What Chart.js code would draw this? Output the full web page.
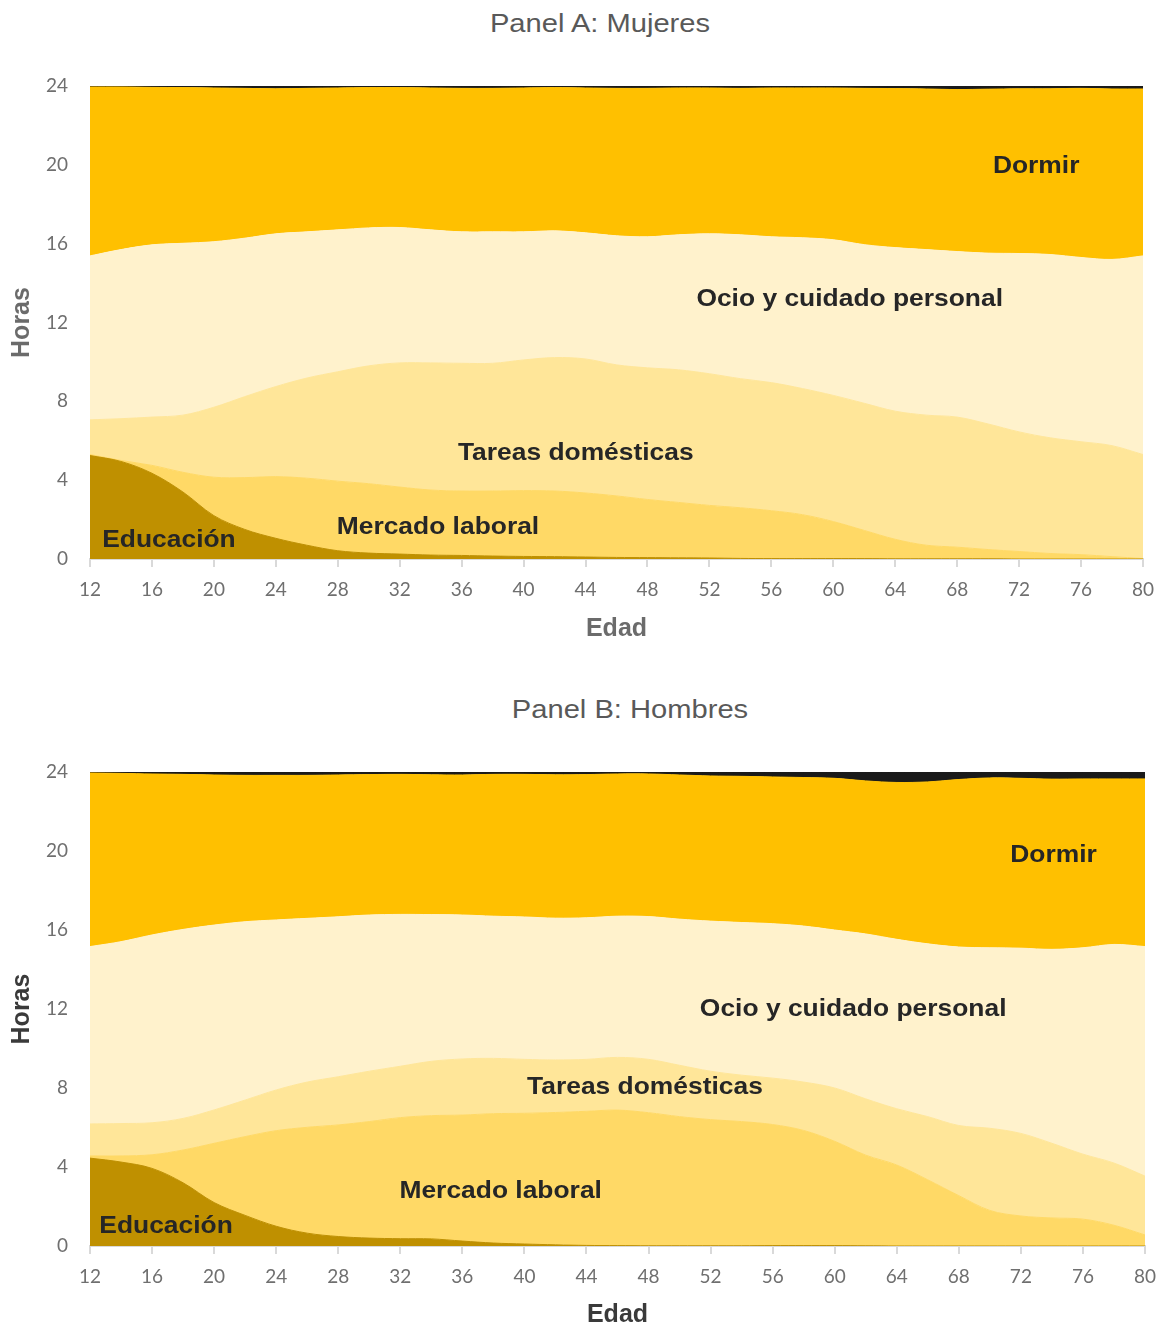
<!DOCTYPE html>
<html>
<head>
<meta charset="utf-8">
<title>Uso del tiempo por edad</title>
<script src="https://cdn.jsdelivr.net/npm/chart.js@4.4.1/dist/chart.umd.min.js"></script>
<style>
  body { margin: 0; background: #fff; width: 1162px; height: 1330px; position: relative; overflow: hidden;
         font-family: "Liberation Sans", Arial, sans-serif; }
  .panel-title { position: absolute; font-size: 26px; color: #595959; transform: translate(-50%, -50%) scaleX(1.12); white-space: nowrap; }
  canvas { position: absolute; left: 0; }
</style>
</head>
<body>
<div class="panel-title" style="left:600px; top:23px;">Panel A: Mujeres</div>
<canvas id="chartA" width="1162" height="615" style="top:40px"></canvas>
<div class="panel-title" style="left:630px; top:709px;">Panel B: Hombres</div>
<canvas id="chartB" width="1162" height="600" style="top:730px"></canvas>

<script>
const ages = [12,14,16,18,20,22,24,26,28,30,32,34,36,38,40,42,44,46,48,50,52,54,56,58,60,62,64,66,68,70,72,74,76,78,80];
const xTicks = { min: 12, max: 80, step: 4 };
const yTicks = { min: 0, max: 24, step: 4 };

// Panel A: Mujeres (horas al día)
const mujEducacion = [5.25,4.95,4.35,3.4,2.2,1.5,1.05,0.7,0.42,0.3,0.25,0.2,0.18,0.15,0.13,0.12,0.1,0.08,0.07,0.06,0.05,0.03,0.02,0.02,0.02,0.02,0.01,0.01,0.01,0.01,0,0,0,0,0];
const mujMercado   = [0.05,0.05,0.4,1.0,1.95,2.63,3.13,3.4,3.53,3.52,3.4,3.3,3.27,3.3,3.34,3.33,3.25,3.12,2.95,2.81,2.67,2.57,2.43,2.23,1.88,1.43,0.99,0.69,0.59,0.47,0.38,0.28,0.22,0.12,0.02];
const mujTareas    = [1.76,2.12,2.45,2.9,3.55,4.11,4.57,5.08,5.55,5.98,6.3,6.45,6.48,6.48,6.63,6.77,6.8,6.65,6.68,6.73,6.68,6.55,6.5,6.4,6.4,6.45,6.5,6.6,6.6,6.37,6.07,5.87,5.73,5.63,5.28];
const mujOcio      = [8.32,8.58,8.74,8.72,8.4,8.04,7.75,7.42,7.2,7.0,6.87,6.75,6.67,6.67,6.5,6.43,6.4,6.55,6.65,6.85,7.1,7.3,7.4,7.65,7.9,8.05,8.3,8.4,8.4,8.67,9.05,9.3,9.35,9.45,10.08];
const mujDormir    = [8.57,8.25,7.99,7.9,7.8,7.6,7.36,7.28,7.2,7.12,7.1,7.2,7.28,7.28,7.3,7.27,7.35,7.48,7.53,7.45,7.4,7.43,7.55,7.6,7.7,7.93,8.07,8.15,8.22,8.32,8.36,8.41,8.58,8.65,8.47];
const mujOtros     = [0.05,0.05,0.07,0.08,0.1,0.12,0.14,0.12,0.1,0.08,0.08,0.1,0.12,0.12,0.1,0.08,0.1,0.12,0.12,0.1,0.1,0.12,0.1,0.1,0.1,0.12,0.13,0.15,0.18,0.16,0.14,0.14,0.12,0.15,0.15];

// Panel B: Hombres (horas al día)
const homEducacion = [4.45,4.25,3.93,3.2,2.2,1.55,1.0,0.65,0.48,0.4,0.37,0.36,0.25,0.15,0.1,0.06,0.03,0.02,0.01,0.01,0.01,0.01,0.02,0.02,0.02,0.01,0,0,0,0,0,0,0,0,0];
const homMercado   = [0.11,0.31,0.69,1.66,3.0,3.99,4.84,5.36,5.65,5.9,6.13,6.24,6.38,6.55,6.62,6.7,6.79,6.86,6.74,6.54,6.39,6.29,6.13,5.83,5.28,4.59,4.1,3.35,2.55,1.8,1.52,1.42,1.36,1.05,0.56];
const homTareas    = [1.62,1.64,1.62,1.6,1.69,1.85,2.06,2.29,2.44,2.55,2.6,2.75,2.84,2.8,2.73,2.66,2.63,2.67,2.7,2.6,2.45,2.35,2.35,2.45,2.7,2.85,2.85,3.2,3.55,4.16,4.18,3.78,3.29,3.15,2.98];
const homOcio      = [8.98,9.21,9.51,9.57,9.36,9.03,8.61,8.29,8.1,7.91,7.69,7.43,7.29,7.2,7.21,7.18,7.17,7.15,7.23,7.4,7.6,7.73,7.82,7.9,8.0,8.35,8.58,8.75,9.04,9.14,9.38,9.82,10.45,11.07,11.62];
const homDormir    = [8.79,8.52,8.15,7.85,7.6,7.41,7.32,7.24,7.18,7.11,7.09,7.08,7.09,7.18,7.22,7.26,7.25,7.2,7.22,7.3,7.35,7.4,7.43,7.52,7.68,7.75,7.94,8.2,8.48,8.6,8.6,8.62,8.55,8.38,8.49];
const homOtros     = [0.05,0.07,0.1,0.12,0.15,0.17,0.17,0.17,0.15,0.13,0.12,0.14,0.15,0.12,0.12,0.14,0.13,0.1,0.1,0.15,0.2,0.22,0.25,0.28,0.32,0.45,0.53,0.5,0.38,0.3,0.32,0.36,0.35,0.35,0.35];

// text inside the areas, placed in data units (edad, horas)
const mujLabels = [
  { text: "Dormir", age: 73.1, hours: 19.9 },
  { text: "Ocio y cuidado personal", age: 61.06, hours: 13.15 },
  { text: "Tareas domésticas", age: 43.37, hours: 5.38 },
  { text: "Mercado laboral", age: 34.47, hours: 1.62 },
  { text: "Educación", age: 17.1, hours: 0.96 }
];
const homLabels = [
  { text: "Dormir", age: 74.1, hours: 19.8 },
  { text: "Ocio y cuidado personal", age: 61.19, hours: 12.0 },
  { text: "Tareas domésticas", age: 47.77, hours: 8.05 },
  { text: "Mercado laboral", age: 38.47, hours: 2.78 },
  { text: "Educación", age: 16.9, hours: 1.01 }
];

const COLORS = {
  educacion: "#BF9000",
  mercado: "#FFD966",
  tareas: "#FFE699",
  ocio: "#FFF2CC",
  dormir: "#FFC000",
  otros: "#1A1A1A"
};
const SANS = '"Liberation Sans", Arial, sans-serif';

function series(label, values, color, first) {
  return {
    label: label,
    data: ages.map((a, i) => ({ x: a, y: values[i] })),
    backgroundColor: color,
    borderColor: color,
    borderWidth: 1,
    pointRadius: 0,
    tension: 0.35,
    fill: first ? "origin" : "-1"
  };
}

function labelPlugin(items) {
  return {
    id: "areaLabels",
    afterDatasetsDraw(chart) {
      const { ctx, scales } = chart;
      items.forEach(l => {
        ctx.save();
        ctx.translate(scales.x.getPixelForValue(l.age), scales.y.getPixelForValue(l.hours));
        ctx.scale(1.1, 1);   // the original text is a bit wider than plain Arial
        ctx.font = "bold 24px " + SANS;
        ctx.fillStyle = "#262626";
        ctx.textAlign = "center";
        ctx.textBaseline = "middle";
        ctx.fillText(l.text, 0, 0);
        ctx.restore();
      });
    }
  };
}

function makeChart(id, sets, labels, o) {
  const tickFont = { family: "Lato", size: 19 };
  const titleFont = { family: SANS, size: 25, weight: "bold", lineHeight: 1.1 };
  return new Chart(document.getElementById(id), {
    type: "line",
    data: {
      datasets: [
        series("Educación", sets[0], COLORS.educacion, true),
        series("Mercado laboral", sets[1], COLORS.mercado),
        series("Tareas domésticas", sets[2], COLORS.tareas),
        series("Ocio y cuidado personal", sets[3], COLORS.ocio),
        series("Dormir", sets[4], COLORS.dormir),
        series("Otros", sets[5], COLORS.otros)
      ]
    },
    options: {
      responsive: false,
      animation: false,
      layout: { padding: { top: o.padTop, right: o.padRight, left: 0, bottom: 0 } },
      plugins: { legend: { display: false }, tooltip: { enabled: false } },
      scales: {
        x: {
          type: "linear",
          min: xTicks.min,
          max: xTicks.max,
          ticks: { stepSize: xTicks.step, autoSkip: false, maxRotation: 0, padding: 11, color: "#6f6f6f", font: tickFont },
          grid: { display: true, drawOnChartArea: false, drawTicks: true, tickLength: 8, color: "#d9d9d9", lineWidth: 2 },
          border: { display: true, color: "#d9d9d9", width: 2 },
          title: { display: true, text: "Edad", color: o.titleColor, font: titleFont,
                   padding: { top: 0, bottom: o.xTitlePad } },
          // fixed height, and let the layout padding alone decide the right edge
          afterFit: s => { s.height = o.xHeight; s.paddingLeft = 0; s.paddingRight = 0; }
        },
        y: {
          stacked: true,
          min: yTicks.min,
          max: yTicks.max,
          ticks: { stepSize: yTicks.step, padding: 22, color: "#6f6f6f", font: tickFont },
          grid: { display: false, drawTicks: false },
          border: { display: false },
          title: { display: true, text: "Horas", color: o.titleColor, font: titleFont,
                   padding: { top: 8, bottom: 0 } },
          afterFit: s => { s.width = 90; }
        }
      }
    },
    plugins: [labelPlugin(labels)]
  });
}

makeChart("chartA",
  [mujEducacion, mujMercado, mujTareas, mujOcio, mujDormir, mujOtros],
  mujLabels,
  { padTop: 46, padRight: 19, xHeight: 96, xTitlePad: 12, titleColor: "#6b6b6b" });

makeChart("chartB",
  [homEducacion, homMercado, homTareas, homOcio, homDormir, homOtros],
  homLabels,
  { padTop: 42, padRight: 17, xHeight: 84, xTitlePad: 1, titleColor: "#3a3a3a" });
</script>
</body>
</html>
